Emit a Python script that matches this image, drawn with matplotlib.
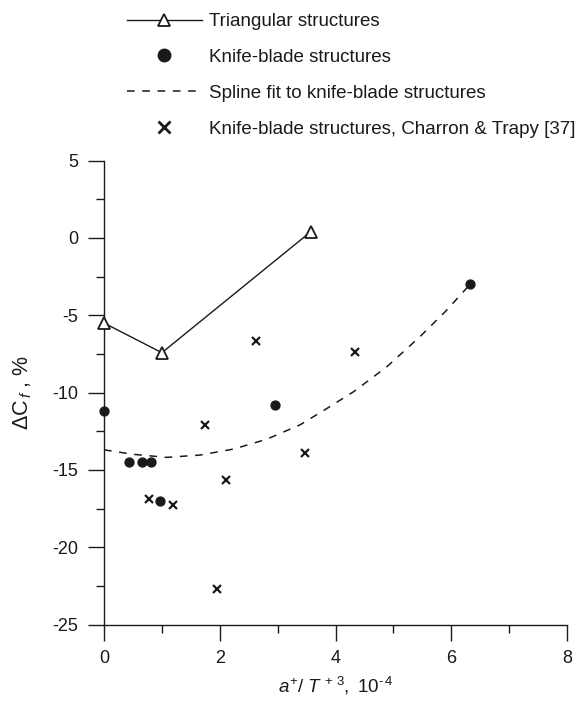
import matplotlib
matplotlib.use("Agg")
import matplotlib.pyplot as plt
from matplotlib.lines import Line2D
from matplotlib.ticker import MultipleLocator

plt.rcParams['font.family'] = ['Liberation Sans', 'DejaVu Sans']
plt.rcParams['mathtext.fontset'] = 'custom'
plt.rcParams['mathtext.rm'] = 'Liberation Sans'
plt.rcParams['mathtext.it'] = 'Liberation Sans:italic'
plt.rcParams['mathtext.bf'] = 'Liberation Sans:bold'
plt.rcParams['axes.unicode_minus'] = False

# ---- data ----
tri_x = [0.0, 1.0, 3.57]
tri_y = [-5.5, -7.42, 0.4]

dot_x = [0.0, 0.43, 0.66, 0.81, 0.97, 2.96, 6.33]
dot_y = [-11.2, -14.47, -14.47, -14.47, -16.98, -10.8, -2.98]

cross_x = [0.77, 1.19, 1.74, 1.95, 2.11, 2.63, 3.48, 4.34]
cross_y = [-16.87, -17.26, -12.1, -22.7, -15.65, -6.68, -13.89, -7.39]

spline_x = [0.0, 0.5, 1.08, 1.66, 2.24, 2.81, 3.39, 3.82, 4.31, 4.89, 5.46, 5.9, 6.33]
spline_y = [-13.7, -13.99, -14.19, -14.04, -13.65, -13.02, -12.08, -11.1, -9.95, -8.32, -6.38, -4.75, -2.98]

labels = ["Triangular structures",
          "Knife-blade structures",
          "Spline fit to knife-blade structures",
          "Knife-blade structures, Charron & Trapy [37]"]

x_ticks = [0, 2, 4, 6, 8]
y_ticks = [5, 0, -5, -10, -15, -20, -25]

FS = 13
LFS = 13.5
col = '#1a1a1a'
DASH = (5, 5)

fig = plt.figure(figsize=(5.76, 7.03), dpi=100)
ax = fig.add_axes([104/576, 1-624.5/703, (567-104)/576, (624.5-160.7)/703])

ax.plot(spline_x, spline_y, color=col, lw=1.1, dashes=DASH, zorder=2)
ax.plot(tri_x, tri_y, color=col, lw=1.0, marker='^', ms=9, mfc='white',
        mec=col, mew=1.3, zorder=3, clip_on=False)
ax.plot(dot_x, dot_y, ls='none', marker='o', ms=6.4, color=col, zorder=3, clip_on=False)
ax.plot(cross_x, cross_y, ls='none', marker='x', ms=5.8, mew=1.6, color=col, zorder=3)

ax.set_xlim(0, 8)
ax.set_ylim(-25, 5)
ax.set_xticks(x_ticks)
ax.set_yticks(y_ticks)
ax.xaxis.set_minor_locator(MultipleLocator(1))
ax.yaxis.set_minor_locator(MultipleLocator(2.5))
for s in ['top', 'right']:
    ax.spines[s].set_visible(False)
for s in ['left', 'bottom']:
    ax.spines[s].set_linewidth(1.0)
    ax.spines[s].set_color(col)
ax.tick_params(which='major', direction='out', length=11.5, width=1.0, color=col,
               labelsize=FS, pad=7, labelcolor=col)
ax.tick_params(which='minor', direction='out', length=5.8, width=1.0, color=col)

ax.set_xlabel('$a^{+}/\\ T^{\\,+\\,\\mathit{3}},\\ \\mathit{10}^{\u2010\\,\\mathit{4}}$',
              fontsize=FS + 0.5, color=col, va='top')
ax.xaxis.set_label_coords(0.5, -0.108)
ax.set_ylabel(r'$\Delta\mathrm{C}_{\,f}$ , %', fontsize=FS + 2.5, color=col)
ax.yaxis.set_label_coords(-0.152, 0.5)

handles = [
    Line2D([], [], color=col, lw=1.0, marker='^', ms=9, mfc='white', mec=col, mew=1.3),
    Line2D([], [], ls='none', marker='o', ms=9, color=col),
    Line2D([], [], color=col, lw=1.1, dashes=DASH),
    Line2D([], [], ls='none', marker='x', ms=8, mew=2.0, color=col),
]
leg = fig.legend(handles, labels, loc='upper left', bbox_to_anchor=(126.7/576, 1-13/703),
                 frameon=False, fontsize=LFS, handlelength=4.0, handletextpad=0.4,
                 labelspacing=1.0, borderaxespad=0, borderpad=0, labelcolor=col)

fig.savefig('out.png', dpi=100)
